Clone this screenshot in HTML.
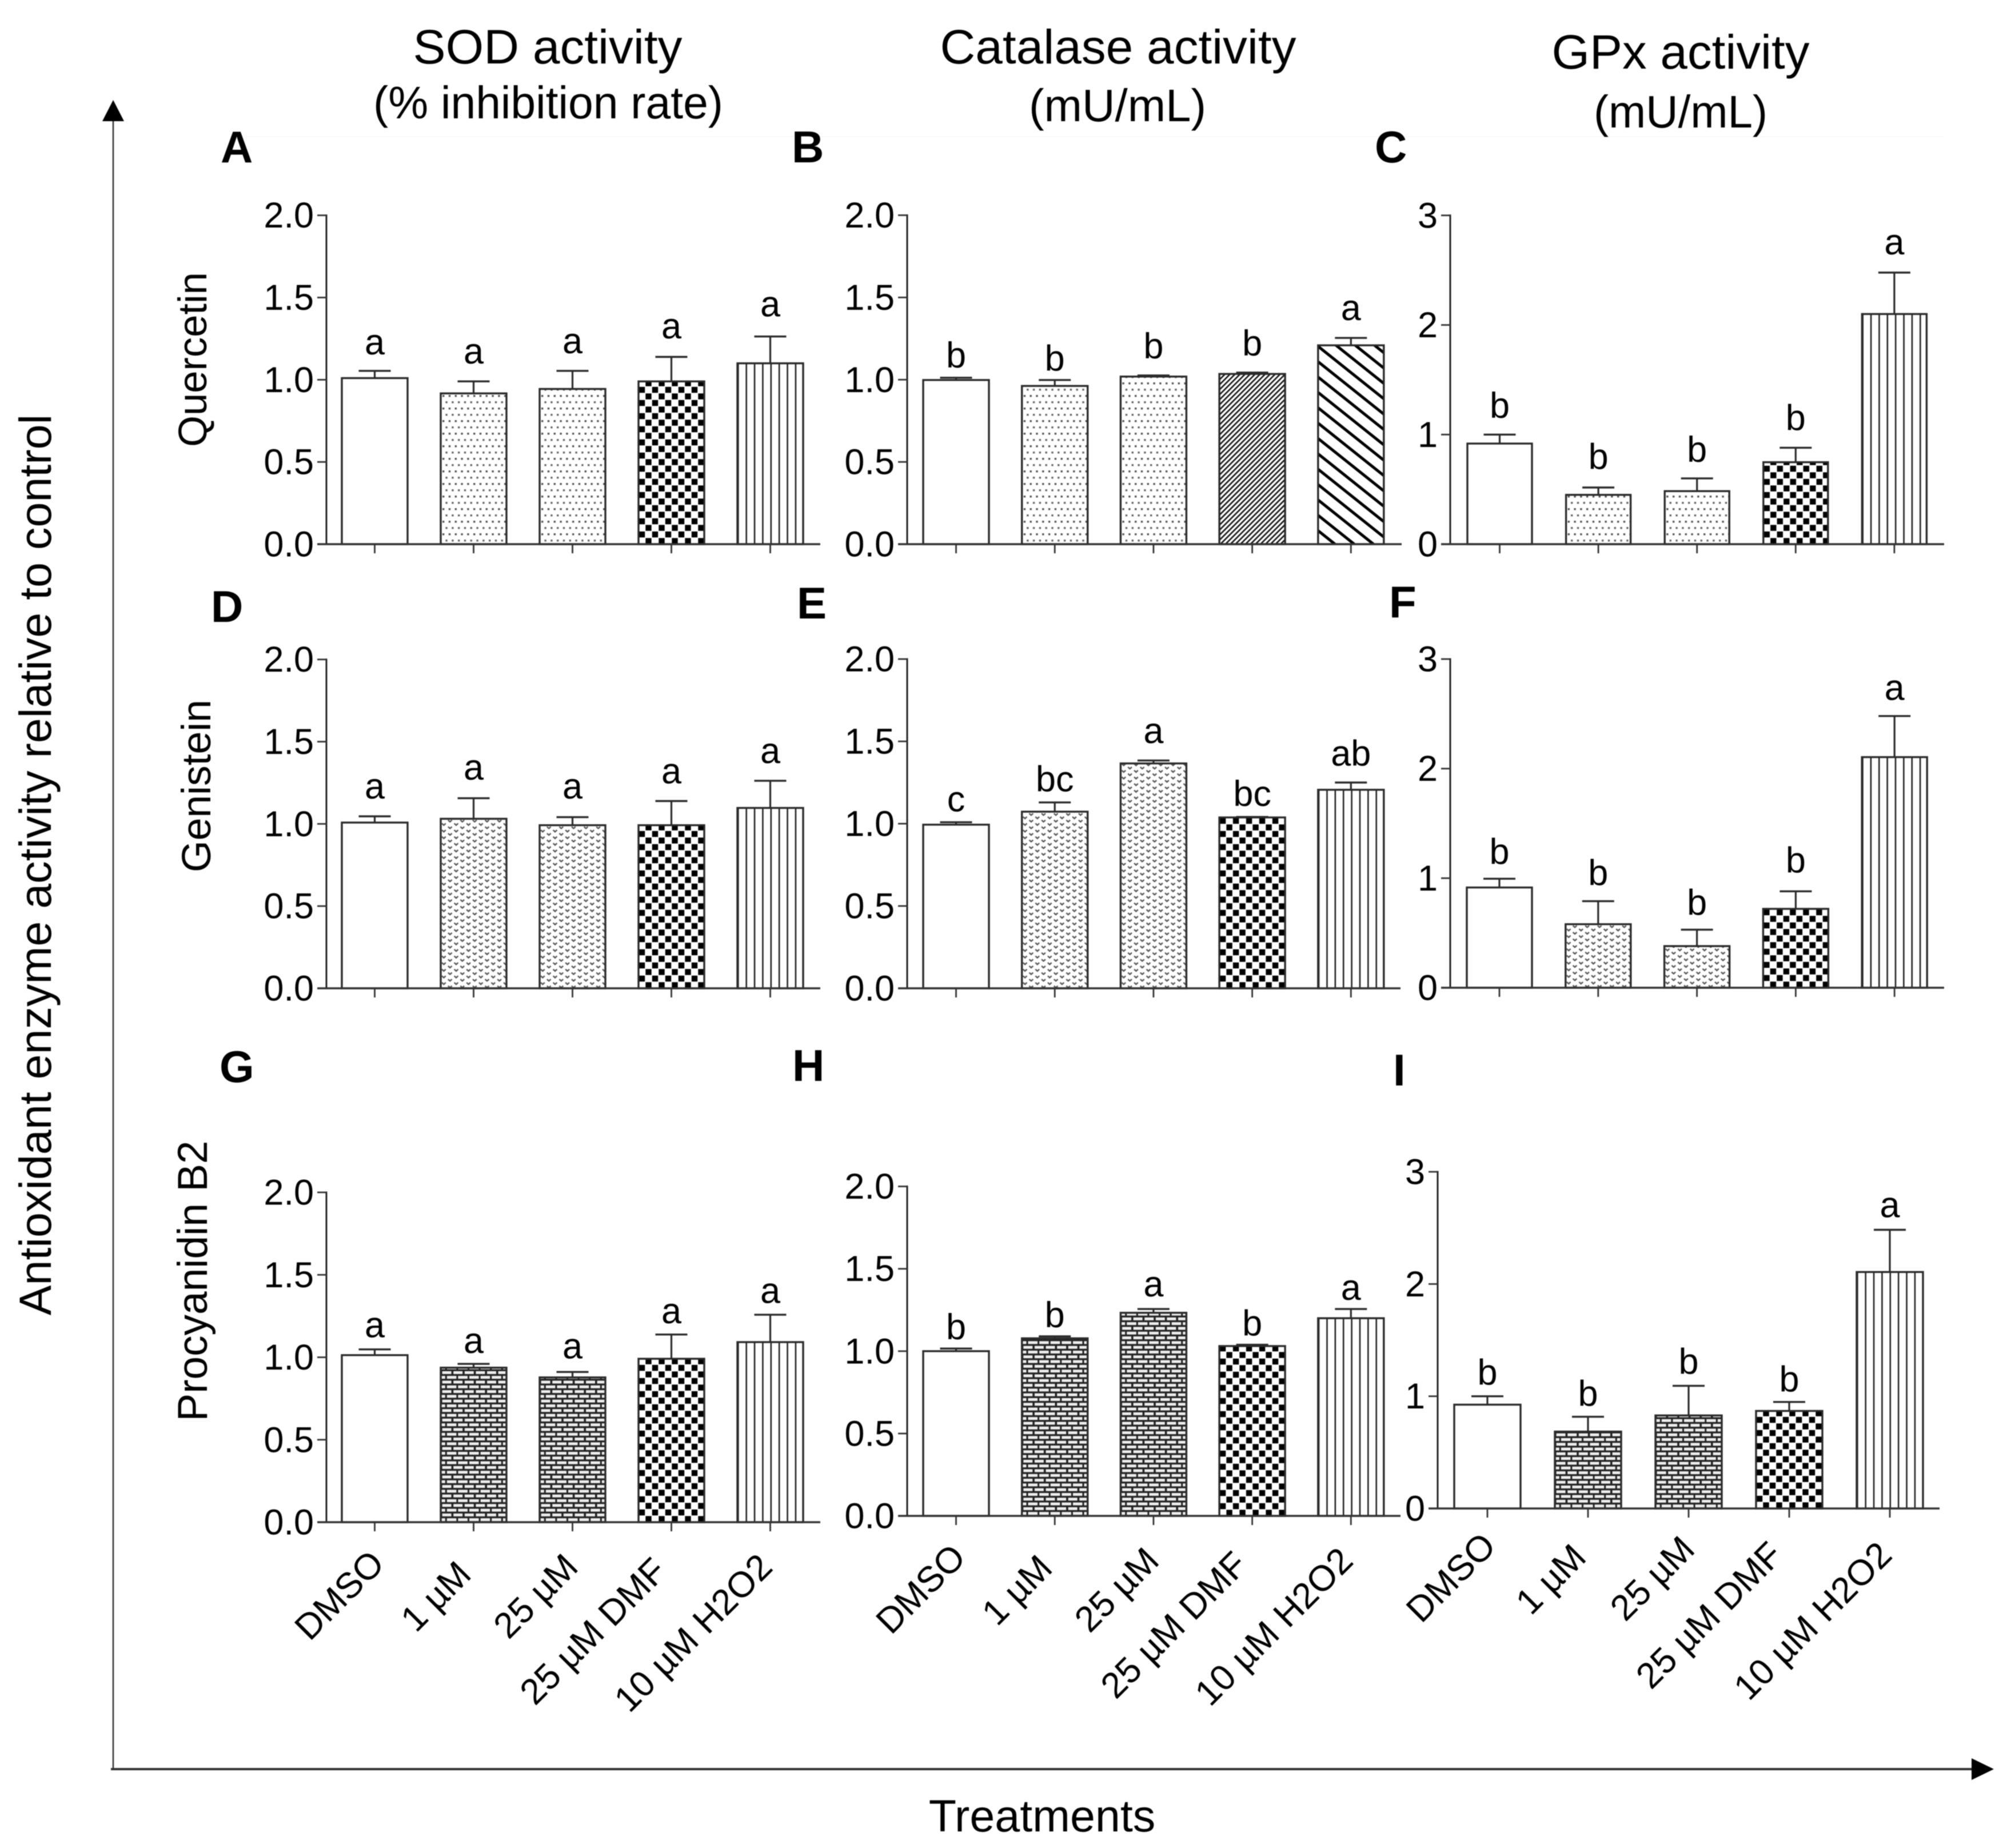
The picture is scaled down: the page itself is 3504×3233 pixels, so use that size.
<!DOCTYPE html>
<html>
<head>
<meta charset="utf-8">
<title>Antioxidant enzyme activity</title>
<style>
html,body{margin:0;padding:0;background:#fff;}
svg{display:block;filter:blur(0.7px);}
text{font-family:"Liberation Sans",Arial,sans-serif;fill:#000;}
</style>
</head>
<body>
<svg id="fig" xmlns="http://www.w3.org/2000/svg" width="3504" height="3233" viewBox="0 0 3504 3233">
<defs>
<pattern id="p-dots" width="21.6" height="22" patternUnits="userSpaceOnUse">
<rect width="21.6" height="22" fill="#fff"/>
<rect x="3" y="3" width="3.4" height="3.4" fill="#555"/>
<rect x="13.8" y="3" width="3.4" height="3.4" fill="#555"/>
<rect x="8.4" y="14" width="3.4" height="3.4" fill="#666"/>
<rect x="19.2" y="14" width="2.4" height="3.4" fill="#666"/>
<rect x="0" y="14" width="1" height="3.4" fill="#666"/>
</pattern>
<pattern id="p-wave" width="21.6" height="11.6" patternUnits="userSpaceOnUse">
<rect width="21.6" height="11.6" fill="#fff"/>
<path d="M2 1.5 L5.4 4.6 L8.8 1.5" fill="none" stroke="#555" stroke-width="2.4"/>
<path d="M12.8 7.3 L16.2 10.4 L19.6 7.3" fill="none" stroke="#555" stroke-width="2.4"/>
</pattern>
<pattern id="p-check" width="23" height="23" patternUnits="userSpaceOnUse">
<rect width="23" height="23" fill="#fff"/>
<rect x="0.8" y="0.8" width="10.4" height="10.4" fill="#000"/>
<rect x="12.3" y="12.3" width="10.4" height="10.4" fill="#000"/>
</pattern>
<pattern id="p-vert" width="14.375" height="20" patternUnits="userSpaceOnUse">
<rect width="14.375" height="20" fill="#fff"/>
<rect x="0" y="0" width="2.6" height="20" fill="#222"/>
</pattern>
<pattern id="p-brick" width="19.6" height="16.6" patternUnits="userSpaceOnUse">
<rect width="19.6" height="16.6" fill="#222"/>
<rect x="2.6" y="1.4" width="16" height="5" fill="#eee"/>
<rect x="0" y="9.7" width="7.8" height="5" fill="#eee"/>
<rect x="10.8" y="9.7" width="8.8" height="5" fill="#eee"/>
</pattern>
<pattern id="p-fine" width="6.2" height="6.2" patternUnits="userSpaceOnUse" patternTransform="rotate(45)">
<rect width="6.2" height="6.2" fill="#fff"/>
<rect x="0" y="0" width="2.6" height="6.2" fill="#111"/>
</pattern>
<pattern id="p-coarse" width="21" height="21" patternUnits="userSpaceOnUse" patternTransform="rotate(38.6)">
<rect width="21" height="21" fill="#fff"/>
<rect x="0" y="0" width="21" height="5" fill="#000"/>
</pattern>
</defs>

<line x1="430" y1="239" x2="3400" y2="239" stroke="#f8f8f8" stroke-width="2"/>

<text x="958" y="111" font-size="84" text-anchor="middle" textLength="471" lengthAdjust="spacingAndGlyphs">SOD activity</text>
<text x="959" y="207" font-size="80" text-anchor="middle" textLength="612" lengthAdjust="spacingAndGlyphs">(% inhibition rate)</text>
<text x="1956" y="111" font-size="84" text-anchor="middle" textLength="623" lengthAdjust="spacingAndGlyphs">Catalase activity</text>
<text x="1955" y="212" font-size="80" text-anchor="middle" textLength="310" lengthAdjust="spacingAndGlyphs">(mU/mL)</text>
<text x="2940" y="120" font-size="84" text-anchor="middle" textLength="451" lengthAdjust="spacingAndGlyphs">GPx activity</text>
<text x="2940" y="223" font-size="80" text-anchor="middle" textLength="304" lengthAdjust="spacingAndGlyphs">(mU/mL)</text>

<text transform="translate(89,1513) rotate(-90)" font-size="79" text-anchor="middle">Antioxidant enzyme activity relative to control</text>
<text x="1823" y="3204" font-size="79" text-anchor="middle">Treatments</text>

<text transform="translate(361,629) rotate(-90)" font-size="70.5" text-anchor="middle">Quercetin</text>
<text transform="translate(368,1375) rotate(-90)" font-size="71.5" text-anchor="middle">Genistein</text>
<text transform="translate(362,2241) rotate(-90)" font-size="73" text-anchor="middle">Procyanidin B2</text>

<g>
<line x1="198" y1="205" x2="198" y2="3097" stroke="#333" stroke-width="2.5"/>
<polygon points="198,175 217,212 179,212" fill="#000"/>
</g>
<g>
<line x1="194" y1="3095" x2="3455" y2="3095" stroke="#333" stroke-width="4"/>
<polygon points="3488,3095 3449,3076 3449,3114" fill="#000"/>
</g>

<g font-weight="700" font-size="78">
<text x="386" y="284" font-weight="700" font-size="78">A</text>
<text x="1385" y="284" font-weight="700" font-size="78">B</text>
<text x="2405" y="284" font-weight="700" font-size="78">C</text>
<text x="369" y="1088" font-weight="700" font-size="78">D</text>
<text x="1394" y="1082" font-weight="700" font-size="78">E</text>
<text x="2430" y="1080" font-weight="700" font-size="78">F</text>
<text x="384" y="1893" font-weight="700" font-size="78">G</text>
<text x="1386" y="1891" font-weight="700" font-size="78">H</text>
<text x="2437" y="1899" font-weight="700" font-size="78">I</text>
</g>
<g id="panels"></g>
</svg>
<script>
// Shared chart data
const categories = ["DMSO", "1 \u00B5M", "25 \u00B5M", "25 \u00B5M DMF", "10 \u00B5M H2O2"];
const ticksSodCat = [0, 0.5, 1, 1.5, 2];
const ticksSodCatLabels = ["0.0", "0.5", "1.0", "1.5", "2.0"];
const ticksGpx = [0, 1, 2, 3];
const ticksGpxLabels = ["0", "1", "2", "3"];

// Panel A
const valuesA = [1.01, 0.917, 0.944, 0.99, 1.10];
const errorTopA = [1.054, 0.99, 1.054, 1.139, 1.263];
const lettersA = ["a", "a", "a", "a", "a"];
// Panel B
const valuesB = [0.998, 0.962, 1.019, 1.035, 1.209];
const errorTopB = [1.012, 0.998, 1.026, 1.043, 1.254];
const lettersB = ["b", "b", "b", "b", "a"];
// Panel C
const valuesC = [0.918, 0.45, 0.484, 0.748, 2.10];
const errorTopC = [1.0, 0.517, 0.60, 0.88, 2.478];
const lettersC = ["b", "b", "b", "b", "a"];
// Panel D
const valuesD = [1.008, 1.031, 0.992, 0.992, 1.097];
const errorTopD = [1.046, 1.156, 1.041, 1.139, 1.262];
const lettersD = ["a", "a", "a", "a", "a"];
// Panel E
const valuesE = [0.994, 1.073, 1.366, 1.038, 1.206];
const errorTopE = [1.009, 1.129, 1.384, 1.041, 1.25];
const lettersE = ["c", "bc", "a", "bc", "ab"];
// Panel F
const valuesF = [0.915, 0.58, 0.38, 0.72, 2.105];
const errorTopF = [0.995, 0.79, 0.53, 0.88, 2.48];
const lettersF = ["b", "b", "b", "b", "a"];
// Panel G
const valuesG = [1.013, 0.937, 0.878, 0.991, 1.092];
const errorTopG = [1.048, 0.96, 0.911, 1.138, 1.258];
const lettersG = ["a", "a", "a", "a", "a"];
// Panel H
const valuesH = [1.0, 1.078, 1.233, 1.031, 1.20];
const errorTopH = [1.016, 1.09, 1.256, 1.039, 1.256];
const lettersH = ["b", "b", "a", "b", "a"];
// Panel I
const valuesI = [0.925, 0.685, 0.829, 0.869, 2.107];
const errorTopI = [1.0, 0.817, 1.093, 0.949, 2.483];
const lettersI = ["b", "b", "b", "b", "a"];

const SVGNS = "http://www.w3.org/2000/svg";
function mk(tag, attrs, parent) {
  const el = document.createElementNS(SVGNS, tag);
  for (const k in attrs) el.setAttribute(k, attrs[k]);
  parent.appendChild(el);
  return el;
}

const dots = ["none", "p-dots", "p-dots", "p-check", "p-vert"];
const dotsDiag = ["none", "p-dots", "p-dots", "p-fine", "p-coarse"];
const waves = ["none", "p-wave", "p-wave", "p-check", "p-vert"];
const bricks = ["none", "p-brick", "p-brick", "p-check", "p-vert"];

const panels = [
  {id:"a", values:valuesA, err:errorTopA, letters:lettersA, ticks:ticksSodCat, tickLabels:ticksSodCatLabels, yMax:2, axisX:571, yTop:376.7, y0:952, x0:655.5, step:173, barW:115, xEnd:1435, fills:dots, gaps:[29,31,31,32.5,35]},
  {id:"b", values:valuesB, err:errorTopB, letters:lettersB, ticks:ticksSodCat, tickLabels:ticksSodCatLabels, yMax:2, axisX:1587, yTop:376.5, y0:952, x0:1672.5, step:172.7, barW:115, xEnd:2452, fills:dotsDiag, gaps:[18,16.5,30,30,31]},
  {id:"c", values:valuesC, err:errorTopC, letters:lettersC, ticks:ticksGpx, tickLabels:ticksGpxLabels, yMax:3, axisX:2537, yTop:376.8, y0:952, x0:2623.5, step:172.6, barW:113, xEnd:3401, fills:dots, gaps:[29.5,32.6,29,30.8,31.7]},
  {id:"d", values:valuesD, err:errorTopD, letters:lettersD, ticks:ticksSodCat, tickLabels:ticksSodCatLabels, yMax:2, axisX:571, yTop:1153.7, y0:1729, x0:655.5, step:173, barW:115, xEnd:1435, fills:waves, gaps:[31,32.5,32.5,31,31]},
  {id:"e", values:valuesE, err:errorTopE, letters:lettersE, ticks:ticksSodCat, tickLabels:ticksSodCatLabels, yMax:2, axisX:1587, yTop:1153, y0:1729, x0:1672.5, step:172.7, barW:115, xEnd:2450, fills:waves, gaps:[19,19.4,30.5,19.4,29.6]},
  {id:"f", values:valuesF, err:errorTopF, letters:lettersF, ticks:ticksGpx, tickLabels:ticksGpxLabels, yMax:3, axisX:2537, yTop:1153, y0:1728, x0:2623, step:172.8, barW:114, xEnd:3401, fills:waves, gaps:[26,28,26,33,28]},
  {id:"g", values:valuesG, err:errorTopG, letters:lettersG, ticks:ticksSodCat, tickLabels:ticksSodCatLabels, yMax:2, axisX:571, yTop:2086, y0:2663, x0:655.5, step:173, barW:115, xEnd:1435, fills:bricks, gaps:[21,19,23.6,19.8,20.4], labelDx:[20,-1,13,-5,7], labelDy:[76,95,82,89,82]},
  {id:"h", values:valuesH, err:errorTopH, letters:lettersH, ticks:ticksSodCat, tickLabels:ticksSodCatLabels, yMax:2, axisX:1587, yTop:2075.6, y0:2652, x0:1672.5, step:172.7, barW:115, xEnd:2450, fills:bricks, gaps:[16,16,22,16,16], labelDx:[20,-1,13,-5,7], labelDy:[76,95,82,89,82]},
  {id:"i", values:valuesI, err:errorTopI, letters:lettersI, ticks:ticksGpx, tickLabels:ticksGpxLabels, yMax:3, axisX:2515, yTop:2050, y0:2639, x0:2602, step:176, barW:116, xEnd:3393, fills:bricks, gaps:[20,19,21,18,22], labelDx:[18,0,14,-8,7], labelDy:[69,89,75,85,85]}
];

const root = document.getElementById("panels");
panels.forEach(function (p) {
  const yScale = function (v) { return p.y0 - (v / p.yMax) * (p.y0 - p.yTop); };
  const xScale = function (i) { return p.x0 + i * p.step; };
  const g = mk("g", {}, root);
  
  

  p.values.forEach(function (v, i) {
    const barG = mk("g", {transform: "translate(" + (xScale(i) - p.barW / 2) + "," + p.y0 + ")"}, g);
    
    
    const h = p.y0 - yScale(v);
    const fill = p.fills[i] === "none" ? "#fff" : "url(#" + p.fills[i] + ")";
    const bar = mk("rect", {x: 0, y: -h, width: p.barW, height: h, fill: fill, stroke: "#2a2a2a", "stroke-width": 3.4}, barG);
    
    

    const cx = xScale(i);
    const capY = yScale(p.err[i]);
    const stem = mk("line", {x1: cx, x2: cx, y1: yScale(v), y2: capY, stroke: "#2a2a2a", "stroke-width": 3.2}, g);
    
    
    const cap = mk("line", {x1: cx - 28, x2: cx + 28, y1: capY, y2: capY, stroke: "#2a2a2a", "stroke-width": 3.4}, g);
    
    

    const sig = mk("text", {x: cx, y: capY - p.gaps[i], "font-size": 63, "text-anchor": "middle"}, g);
    
    
    sig.textContent = p.letters[i];

    const xt = mk("line", {x1: cx, x2: cx, y1: p.y0, y2: p.y0 + 16, stroke: "#333", "stroke-width": 2.8}, g);
    
    

    if (p.labelDx) {
      const X = cx + p.labelDx[i];
      const Y = p.y0 + p.labelDy[i];
      const lab = mk("text", {transform: "translate(" + X + "," + Y + ") rotate(-45)", "font-size": 63, "text-anchor": "end"}, g);
      
      
      lab.textContent = categories[i];
    }
  });

  const yAxis = mk("line", {x1: p.axisX, x2: p.axisX, y1: p.yTop - 1.5, y2: p.y0, stroke: "#222", "stroke-width": 3}, g);
  
  
  const xAxis = mk("line", {x1: p.axisX - 16, x2: p.xEnd, y1: p.y0, y2: p.y0, stroke: "#333", "stroke-width": 3.6}, g);
  
  

  p.ticks.forEach(function (t, i) {
    const y = yScale(t);
    const tick = mk("line", {x1: p.axisX - 16, x2: p.axisX, y1: y, y2: y, stroke: "#333", "stroke-width": 2.8}, g);
    
    
    const lab = mk("text", {x: p.axisX - 22, y: y + 21.5, "font-size": 63, "text-anchor": "end"}, g);
    
    
    lab.textContent = p.tickLabels[i];
  });
});
</script>
</body>
</html>
